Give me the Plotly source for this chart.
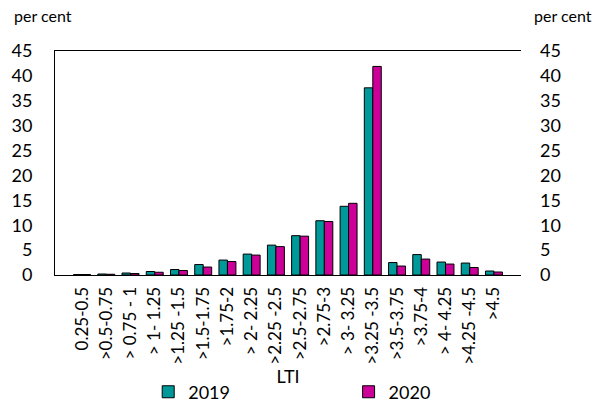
import plotly.graph_objects as go

categories = ["0.25-0.5", ">0.5-0.75", "> 0.75 - 1", "> 1- 1.25", ">1.25 -1.5",
              ">1.5-1.75", ">1.75-2", "> 2- 2.25", ">2.25 -2.5", ">2.5-2.75",
              ">2.75-3", "> 3- 3.25", ">3.25 -3.5", ">3.5-3.75", ">3.75-4",
              "> 4- 4.25", ">4.25 -4.5", ">4.5"]
vals_2019 = [0.1, 0.2, 0.4, 0.7, 1.1, 2.1, 3.0, 4.2, 6.0, 7.9,
             10.9, 13.8, 37.6, 2.5, 4.1, 2.6, 2.4, 0.8]
vals_2020 = [0.1, 0.15, 0.3, 0.55, 0.9, 1.6, 2.7, 4.0, 5.7, 7.8,
             10.75, 14.4, 41.9, 1.8, 3.2, 2.2, 1.5, 0.6]

FONT = "Lato"

fig = go.Figure()
fig.add_trace(go.Bar(x=categories, y=vals_2019, name="2019", legend="legend",
                     marker=dict(color="#009999", line=dict(color="black", width=1))))
fig.add_trace(go.Bar(x=categories, y=vals_2020, name="2020", legend="legend2",
                     marker=dict(color="#CC0099", line=dict(color="black", width=1))))
# invisible trace so the right-hand axis is drawn
fig.add_trace(go.Scatter(x=categories, y=vals_2020, yaxis="y2", mode="markers",
                         marker=dict(opacity=0), showlegend=False, hoverinfo="skip"))

# the page body adds an 8px margin, so the figure is 8px smaller than the window
fig.update_layout(
    width=592, height=399,
    margin=dict(l=47, r=79, t=43, b=132, autoexpand=False),
    paper_bgcolor="white", plot_bgcolor="white",
    font=dict(family=FONT, size=18, color="black"),
    bargap=0.3, bargroupgap=0,
    legend=dict(x=0.2, xanchor="left", y=-0.44, yanchor="top",
                font=dict(size=18), itemwidth=30, bgcolor="rgba(0,0,0,0)"),
    legend2=dict(x=0.63, xanchor="left", y=-0.44, yanchor="top",
                 font=dict(size=18), itemwidth=30, bgcolor="rgba(0,0,0,0)"),
    xaxis=dict(tickangle=-90, tickfont=dict(size=17), showline=True, linecolor="black",
               mirror=True, ticks="", ticklabelstandoff=4,
               title=dict(text="LTI", font=dict(size=18), standoff=4)),
    yaxis=dict(range=[0, 45], dtick=5, showgrid=False, showline=True, linecolor="black",
               ticks="", zeroline=False, ticklabelstandoff=18),
    yaxis2=dict(range=[0, 45], dtick=5, overlaying="y", side="right", showgrid=False,
                showline=False, ticks="", zeroline=False, ticklabelstandoff=18),
    annotations=[
        dict(text="per cent", xref="paper", yref="paper", x=-0.093, y=1.105,
             xanchor="left", yanchor="bottom", showarrow=False, font=dict(size=16)),
        dict(text="per cent", xref="paper", yref="paper", x=1.156, y=1.105,
             xanchor="right", yanchor="bottom", showarrow=False, font=dict(size=16)),
    ],
)

fig.write_html("out.html")
